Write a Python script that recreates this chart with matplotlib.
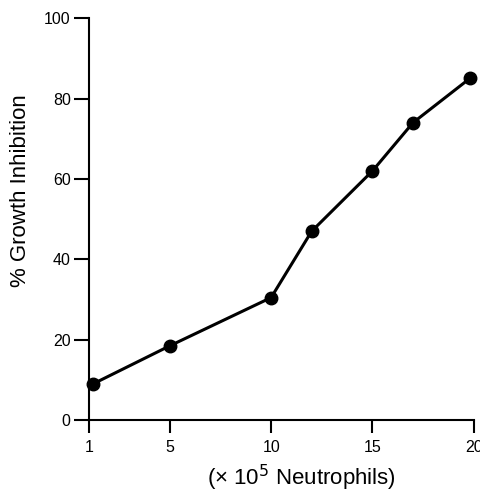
import matplotlib
matplotlib.use("Agg")
import matplotlib.pyplot as plt

plt.rcParams['font.family'] = ['Liberation Sans', 'DejaVu Sans']

# data
neutrophils = [1.2, 5, 10, 12, 15, 17, 19.8]
inhibition = [9, 18.5, 30.5, 47, 62, 74, 85]

x_ticks = [1, 5, 10, 15, 20]
y_ticks = [0, 20, 40, 60, 80, 100]

fig = plt.figure(figsize=(4.8, 4.92), dpi=100)
ax = fig.add_axes([0.185, 0.146, 0.802, 0.817])

ax.plot(neutrophils, inhibition, color='black', lw=2.2, marker='o',
        markersize=9, clip_on=False, zorder=5)

ax.set_xlim(1, 20)
ax.set_ylim(0, 100)
ax.set_xticks(x_ticks)
ax.set_yticks(y_ticks)

for side in ('top', 'right'):
    ax.spines[side].set_visible(False)
for side in ('left', 'bottom'):
    ax.spines[side].set_linewidth(1.5)

ax.tick_params(axis='y', direction='out', length=11, width=1.5,
               labelsize=11.5, pad=2)
ax.tick_params(axis='x', direction='out', length=9, width=1.5,
               labelsize=11.5, pad=5)

ax.set_ylabel('% Growth Inhibition', fontsize=16)
ax.yaxis.set_label_coords(-0.15, 0.57)
ax.set_xlabel('(× 10$^5$ Neutrophils)', fontsize=16)
ax.xaxis.set_label_coords(0.553, -0.105)

fig.savefig('out.png', dpi=100, facecolor='white')
